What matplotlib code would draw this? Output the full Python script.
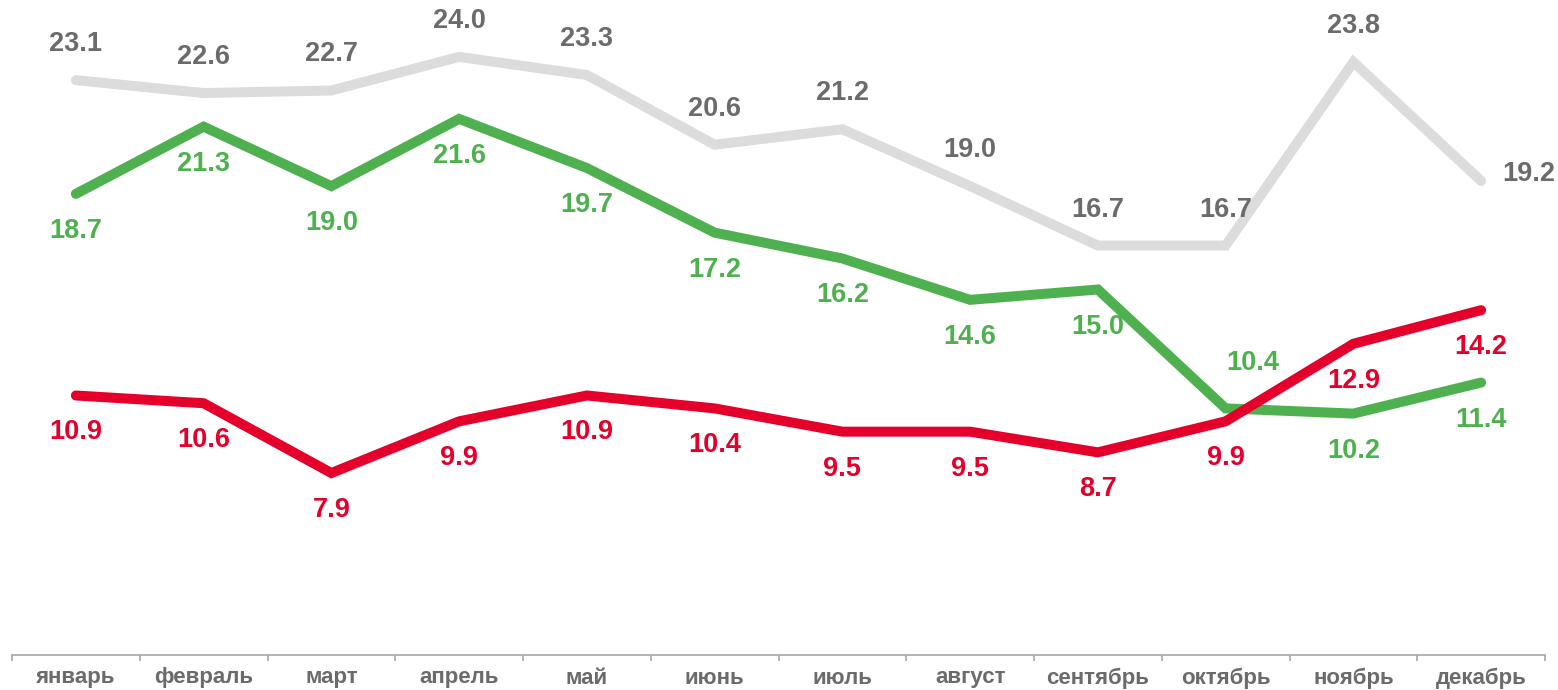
import matplotlib.pyplot as plt
import numpy as np

months = ['январь', 'февраль', 'март', 'апрель', 'май', 'июнь',
          'июль', 'август', 'сентябрь', 'октябрь', 'ноябрь', 'декабрь']
gray_vals = [23.1, 22.6, 22.7, 24.0, 23.3, 20.6, 21.2, 19.0, 16.7, 16.7, 23.8, 19.2]
green_vals = [18.7, 21.3, 19.0, 21.6, 19.7, 17.2, 16.2, 14.6, 15.0, 10.4, 10.2, 11.4]
red_vals = [10.9, 10.6, 7.9, 9.9, 10.9, 10.4, 9.5, 9.5, 8.7, 9.9, 12.9, 14.2]

plt.rcParams['font.family'] = ['Liberation Sans', 'DejaVu Sans']

fig = plt.figure(figsize=(15.58, 6.90), dpi=100)
ax = fig.add_axes([12 / 1558, 1 - 655 / 690, 1533 / 1558, 655 / 690])

x = np.arange(len(months))
series = [
    (gray_vals, '#dcdcdc', '#6b6b6b', 36),
    (green_vals, '#4fb04f', '#4fb04f', -37),
    (red_vals, '#e4002b', '#e4002b', -37),
]

for vals, lc, tc, dy in series:
    ax.plot(x, vals, color=lc, lw=7.2, solid_capstyle='round', solid_joinstyle='miter')
    for i, v in enumerate(vals):
        ox, oy = 0, dy
        # особые случаи расположения подписей
        if lc == '#dcdcdc' and i == 11:
            ox, oy = 48, 7
        if lc == '#4fb04f' and i == 9:
            ox, oy = 27, 45
        ax.annotate(f'{v:.1f}', (x[i], v), xytext=(ox, oy), textcoords='offset pixels',
                    ha='center', va='center', fontsize=19.5, fontweight='bold', color=tc)

ax.set_xlim(-0.5, 11.5)
ax.set_ylim(0.86, 26.2)

for s in ['top', 'right', 'left']:
    ax.spines[s].set_visible(False)
ax.spines['bottom'].set_color('#a6a6a6')
ax.spines['bottom'].set_linewidth(1.2)

ax.set_yticks([])
ax.set_xticks(x)
ax.set_xticklabels(months, fontsize=16, fontweight='bold', color='#6b6b6b')
ax.set_xticks(np.arange(-0.5, 12, 1), minor=True)
ax.tick_params(axis='x', which='major', length=0, pad=9)
ax.tick_params(axis='x', which='minor', length=4.5, width=1.2, color='#a6a6a6', direction='out')

fig.savefig('out.png', dpi=100)
